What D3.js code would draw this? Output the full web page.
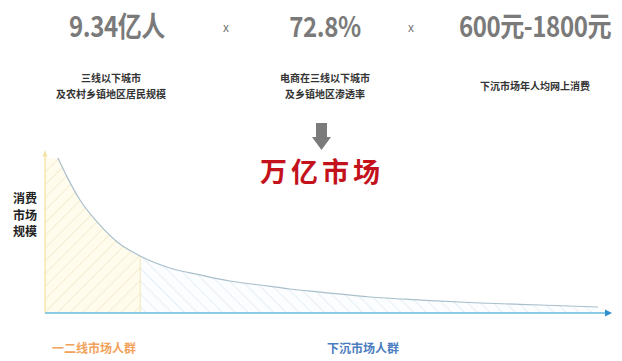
<!DOCTYPE html>
<html>
<head>
<meta charset="utf-8">
<script src="https://cdn.jsdelivr.net/npm/d3@7/dist/d3.min.js"></script>
<style>
  html, body { margin: 0; padding: 0; background: #fff; }
  svg { display: block; }
  text { font-family: "Noto Sans CJK SC", "Noto Sans", sans-serif; }
</style>
</head>
<body>
<svg id="chart" width="622" height="361"></svg>
<script>
// ---- data ----
const statValues = ["9.34亿人", "72.8%", "600元-1800元"];
const statLabels = [
  ["三线以下城市", "及农村乡镇地区居民规模"],
  ["电商在三线以下城市", "及乡镇地区渗透率"],
  ["下沉市场年人均网上消费"]
];
const operators = ["x", "x"];
const resultLabel = "万亿市场";
const yAxisLabel = ["消费", "市场", "规模"];
const groupLabels = ["一二线市场人群", "下沉市场人群"];
// long-tail curve: population share (x) vs consumption scale (y)
const curveX = [2.3, 4.1, 6.25, 9.3, 12.9, 17, 22.3, 27.7, 33, 38.4, 43.75, 49.1, 58, 67.1, 77.7, 88.4, 98.75];
const curveY = [96.9, 84, 70.6, 56.9, 44.4, 35.6, 28.1, 23.8, 20, 17.5, 15, 13.1, 10, 8.1, 6.25, 5, 3.75];
const dividerX = 17;

// ---- layout ----
const svg = d3.select("#chart");
const x = d3.scaleLinear().domain([0, 100]).range([45, 605]);
const y = d3.scaleLinear().domain([0, 100]).range([313, 153]);
const pts = curveX.map((v, i) => ({ x: v, y: curveY[i] }));

const defs = svg.append("defs");
const pY = defs.append("pattern").attr("id", "hatchY").attr("patternUnits", "userSpaceOnUse")
  .attr("width", 9).attr("height", 9).attr("patternTransform", "rotate(-45)");
pY.append("rect").attr("width", 9).attr("height", 9).attr("fill", "#fffcee");
pY.append("line").attr("x1", 0).attr("y1", 0).attr("x2", 9).attr("y2", 0)
  .attr("stroke", "#efe4bc").attr("stroke-width", 1.2);
const pB = defs.append("pattern").attr("id", "hatchB").attr("patternUnits", "userSpaceOnUse")
  .attr("width", 9).attr("height", 9).attr("patternTransform", "rotate(45)");
pB.append("rect").attr("width", 9).attr("height", 9).attr("fill", "#fbfdfe");
pB.append("line").attr("x1", 0).attr("y1", 0).attr("x2", 9).attr("y2", 0)
  .attr("stroke", "#dae7f1").attr("stroke-width", 1.2);

const curve = d3.curveMonotoneX;
const leftPts = [{ x: 0, y: curveY[0] }].concat(pts.filter(p => p.x <= dividerX));
const area = d3.area().x(d => x(d.x)).y0(y(0)).y1(d => y(d.y)).curve(curve);
svg.append("path").datum(leftPts).attr("d", area).attr("fill", "url(#hatchY)");
svg.append("path").datum(pts.filter(p => p.x >= dividerX)).attr("d", area).attr("fill", "url(#hatchB)");
const divPt = pts.find(p => p.x === dividerX);
svg.append("line").attr("x1", x(dividerX)).attr("x2", x(dividerX))
  .attr("y1", y(divPt.y)).attr("y2", y(0)).attr("stroke", "#f1e6b8").attr("stroke-width", 1);

svg.append("path").datum(pts)
  .attr("d", d3.line().x(d => x(d.x)).y(d => y(d.y)).curve(curve))
  .attr("fill", "none").attr("stroke", "#a9bfcc").attr("stroke-width", 1.2);

// y axis (yellow)
svg.append("line").attr("x1", x(0)).attr("x2", x(0)).attr("y1", y(0)).attr("y2", y(101))
  .attr("stroke", "#f3e3a0").attr("stroke-width", 1.3);
svg.append("path").attr("d", `M${x(0) - 2.5},${y(101) + 5} L${x(0)},${y(101) - 1} L${x(0) + 2.5},${y(101) + 5}Z`)
  .attr("fill", "#f3e3a0");
// x axis (blue)
svg.append("line").attr("x1", x(0)).attr("x2", 608).attr("y1", y(0)).attr("y2", y(0))
  .attr("stroke", "#8ccbe6").attr("stroke-width", 2);
svg.append("path").attr("d", `M605,${y(0) - 3.5} L612,${y(0)} L605,${y(0) + 3.5}Z`).attr("fill", "#2f8fcf");

// top stats
const statX = [117, 325, 535];
const opX = [226, 411];
statValues.forEach((s, i) => {
  svg.append("g").attr("transform", `translate(${statX[i]},37) scale(0.86,1)`)
    .append("text").attr("text-anchor", "middle")
    .attr("font-size", 28).attr("font-weight", "bold").attr("fill", "#7a7a7a")
    .attr("letter-spacing", -0.5).text(s);
  statLabels[i].forEach((l, j) => {
    const n = statLabels[i].length;
    const cy = n === 1 ? 86 : 78 + j * 15.5;
    svg.append("text").attr("x", statX[i] - (i === 0 ? 6 : 0)).attr("y", cy + 4).attr("text-anchor", "middle")
      .attr("font-size", 10).attr("font-weight", "bold").attr("fill", "#333").text(l);
  });
});
operators.forEach((o, i) => {
  svg.append("text").attr("x", opX[i]).attr("y", 32).attr("text-anchor", "middle")
    .attr("font-size", 12).attr("fill", "#777").text(o);
});

// arrow
svg.append("path").attr("d", "M316,123 L327,123 L327,137 L331,137 L321.5,150 L312,137 L316,137Z")
  .attr("fill", "#7b7b7b");
svg.append("text").attr("x", 322).attr("y", 182).attr("text-anchor", "middle")
  .attr("font-size", 27).attr("font-weight", "bold").attr("fill", "#c3121c")
  .attr("letter-spacing", 4).text(resultLabel);

yAxisLabel.forEach((l, i) => {
  svg.append("text").attr("x", 25).attr("y", 203 + i * 16.5).attr("text-anchor", "middle")
    .attr("font-size", 12).attr("font-weight", "bold").attr("fill", "#222").text(l);
});

svg.append("text").attr("x", 52).attr("y", 353).attr("font-size", 12).attr("font-weight", "bold")
  .attr("fill", "#f2a25a").text(groupLabels[0]);
svg.append("text").attr("x", 327).attr("y", 353).attr("font-size", 12).attr("font-weight", "bold")
  .attr("fill", "#4a7cc0").text(groupLabels[1]);
</script>
</body>
</html>
